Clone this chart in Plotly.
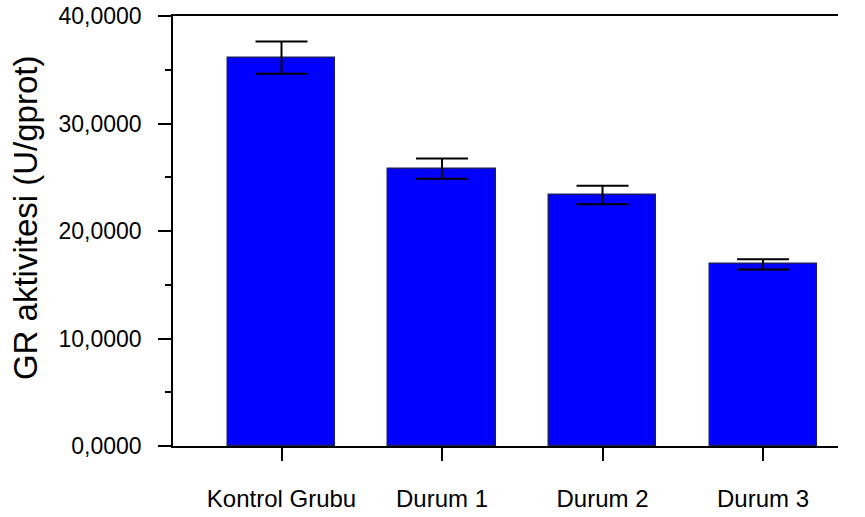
import plotly.graph_objects as go

categories = ["Kontrol Grubu", "Durum 1", "Durum 2", "Durum 3"]
values = [36.12, 25.8, 23.35, 16.9]
errors = [1.5, 0.95, 0.85, 0.47]
y_title = "GR aktivitesi (U/gprot)"
x_pos = list(range(len(categories)))

fig = go.Figure()
fig.add_trace(go.Bar(
    x=x_pos, y=values, width=0.667,
    marker=dict(color="#0000ff", line=dict(color="#1c1c6e", width=1.5)),
    error_y=dict(type="data", array=errors, visible=True, color="black", thickness=2, width=26),
))

fig.update_layout(
    width=865, height=517,
    margin=dict(l=173, r=27, t=16, b=71, autoexpand=False),
    plot_bgcolor="white", paper_bgcolor="white",
    separators=",.",
    showlegend=False,
    font=dict(family="Liberation Sans, Arial, sans-serif", color="black"),
    bargap=0,
)
fig.update_xaxes(
    range=[-0.676, 3.467], automargin=False,
    tickvals=x_pos, ticktext=categories,
    ticks="outside", ticklen=13, tickwidth=1.5, tickcolor="black",
    showline=True, linecolor="black", linewidth=1.5, mirror=True,
    showgrid=False, zeroline=False,
    tickfont=dict(size=24), ticklabelstandoff=17,
)
fig.update_yaxes(
    range=[0, 40], dtick=10, tick0=0, tickformat=".4f", automargin=False,
    ticks="outside", ticklen=13, tickwidth=1.5, tickcolor="black",
    minor=dict(ticks="outside", ticklen=6, dtick=5, tick0=0, tickcolor="black", tickwidth=1.5, showgrid=False),
    showline=True, linecolor="black", linewidth=1.5,
    showgrid=False, zeroline=False,
    tickfont=dict(size=23), ticklabelstandoff=12,
)
fig.add_annotation(
    text=y_title, textangle=-90, showarrow=False,
    xref="paper", yref="paper", x=0, y=0.530,
    xanchor="center", yanchor="middle", xshift=-148,
    font=dict(size=33, color="black"),
)
fig.write_html("out.html", config={"displayModeBar": False},
               post_script="document.body.style.margin='0';")
